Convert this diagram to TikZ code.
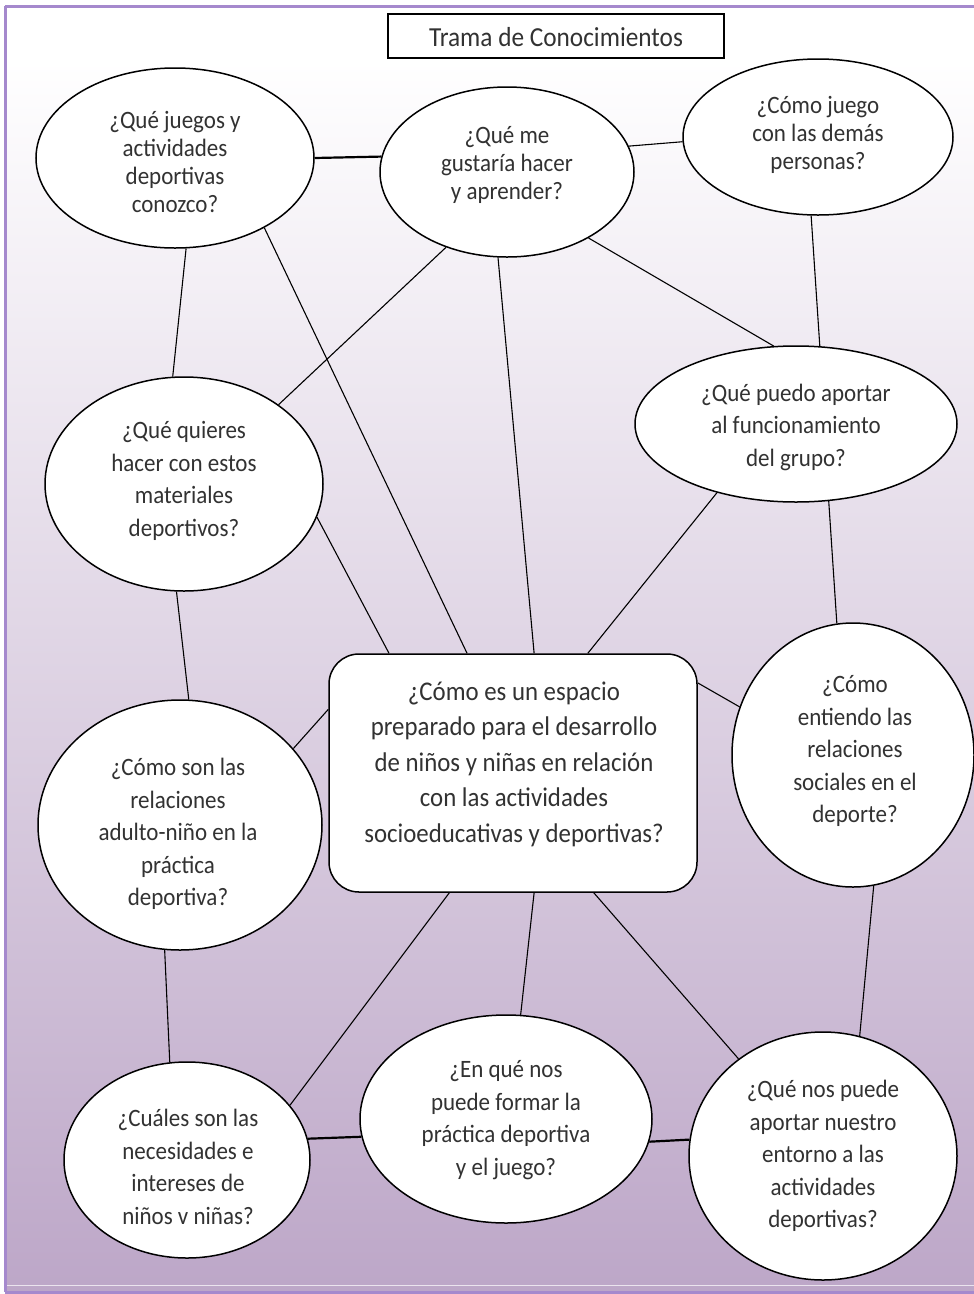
\documentclass[tikz,border=0pt]{standalone}
\usepackage{fontspec}
\setmainfont{Carlito}[FakeStretch=0.92]
\usetikzlibrary{shapes.geometric}

\definecolor{ink}{RGB}{50,50,50}
\definecolor{frame}{RGB}{165,137,205}
\definecolor{lilac}{RGB}{189,167,200}

\newcommand\bubfont{\fontsize{25}{32.5}\selectfont}
\newcommand\topfont{\fontsize{25}{28}\selectfont}
\newcommand\hubfont{\fontsize{27}{35.5}\selectfont}
\newcommand\headfont{\fontsize{27.5}{30}\selectfont}

\tikzset{
  bub/.style={ellipse, draw=black, line width=1.5pt, fill=white, inner sep=0pt},
  txt/.style={align=center, inner sep=0pt, text=ink},
  link/.style={draw=black, line width=1.1pt},
  boldlink/.style={draw=black, line width=2.2pt},
}

\begin{document}
\begin{tikzpicture}[x=1pt,y=1pt]
\useasboundingbox (0,0) rectangle (974,-1294);

% page background: white head, lilac gradient below
\fill[white] (0,0) rectangle (974,-1294);
\shade[top color=white, bottom color=lilac] (5,-60) rectangle (974,-1286);
\fill[lilac] (5,-1286) rectangle (974,-1294);

% frame lines
\draw[frame, line width=3pt] (5,-6) -- (974,-6);
\draw[frame, line width=3pt] (5,-6) -- (5,-1292);
\draw[frame, line width=3pt] (5,-1292.5) -- (974,-1292.5);
\draw[white!70!lilac, line width=1.5pt] (7,-1285.5) -- (974,-1285.5);

% title
\node[draw=black, line width=1.5pt, fill=white, minimum width=336pt, minimum height=44pt, inner sep=0pt] (title) at (556,-36) {};
\node[txt, font=\headfont] (titletext) at (556,-37) {Trama de Conocimientos};

% bubbles
\node[bub, minimum width=278pt, minimum height=180pt] (e1) at (175,-158) {};
\node[bub, minimum width=254pt, minimum height=170pt] (e2) at (507,-172) {};
\node[bub, minimum width=270pt, minimum height=156pt] (e3) at (818,-137) {};
\node[bub, minimum width=322pt, minimum height=156pt] (e4) at (796,-424) {};
\node[bub, minimum width=278pt, minimum height=214pt] (e5) at (184,-484) {};
\node[draw=black, line width=1.5pt, fill=white, rounded corners=30pt, minimum width=368pt, minimum height=238pt, inner sep=0pt] (hub) at (513,-773) {};
\node[bub, minimum width=242pt, minimum height=264pt] (e6) at (853,-755) {};
\node[bub, minimum width=284pt, minimum height=250pt] (e7) at (180,-825) {};
\node[bub, minimum width=246pt, minimum height=196pt] (e8) at (187,-1160) {};
\node[bub, minimum width=292pt, minimum height=208pt] (e9) at (506,-1119) {};
\node[bub, minimum width=268pt, minimum height=248pt] (e10) at (823,-1156) {};

% texts
\node[txt, font=\topfont] (t1) at (175,-162) {¿Qué juegos y\\actividades\\deportivas\\conozco?};
\node[txt, font=\topfont] (t2) at (507,-165) {¿Qué me\\gustaría hacer\\y aprender?};
\node[txt, font=\topfont] (t3) at (818,-135) {¿Cómo juego\\con las demás\\personas?};
\node[txt, font=\bubfont] (t4) at (796,-427) {¿Qué puedo aportar\\al funcionamiento\\del grupo?};
\node[txt, font=\bubfont] (t5) at (184,-481) {¿Qué quieres\\hacer con estos\\materiales\\deportivos?};
\node[txt, font=\hubfont] (th) at (514,-764) {¿Cómo es un espacio\\preparado para el desarrollo\\de niños y niñas en relación\\con las actividades\\socioeducativas y deportivas?};
\node[txt, font=\bubfont] (t6) at (855,-751) {¿Cómo\\entiendo las\\relaciones\\sociales en el\\deporte?};
\node[txt, font=\bubfont] (t7) at (178,-834) {¿Cómo son las\\relaciones\\adulto-niño en la\\práctica\\deportiva?};
\node[txt, font=\bubfont] (t8) at (188,-1167) {¿Cuáles son las\\necesidades e\\intereses de\\niños v niñas?};
\node[txt, font=\bubfont] (t9) at (506,-1120) {¿En qué nos\\puede formar la\\práctica deportiva\\y el juego?};
\node[txt, font=\bubfont] (t10) at (823,-1156) {¿Qué nos puede\\aportar nuestro\\entorno a las\\actividades\\deportivas?};

% connectors
\draw[boldlink] (e1.0) -- (e2.173.7);
\draw[link] (e2.12.5) -- (e3.182.6);
\draw[link] (e1.277) -- (e5.96.4);
\draw[link] (e1.322.4) -- (hub.111.2);
\draw[link] (e2.231.3) -- (e5.40.4);
\draw[link] (e2.264.6) -- (hub.80.5);
\draw[link] (e2.321.9) -- (e4.106.6);
\draw[link] (e3.265.6) -- (e4.73.4);
\draw[link] (e4.221.1) -- (hub.58.1);
\draw[link] (e5.346.4) -- (hub.136.4);
\draw[link] (e5.266.8) -- (e7.86.3);
\draw[link] (e4.293.2) -- (e6.97.3);
\draw[link] (hub.161.7) -- (e7.34.1);
\draw[link] (hub.26.1) -- (e6.157.2);
\draw[link] (hub.242.1) -- (e8.28.5);
\draw[link] (hub.280.5) -- (e9.82.3);
\draw[link] (hub.304.9) -- (e10.131.6);
\draw[link] (e6.279.5) -- (e10.73.0);
\draw[link] (e7.263.6) -- (e8.100.7);
\draw[boldlink] (e8.10.5) -- (e9.187.1);
\draw[boldlink] (e9.351.3) -- (e10.173.6);
\end{tikzpicture}
\end{document}
